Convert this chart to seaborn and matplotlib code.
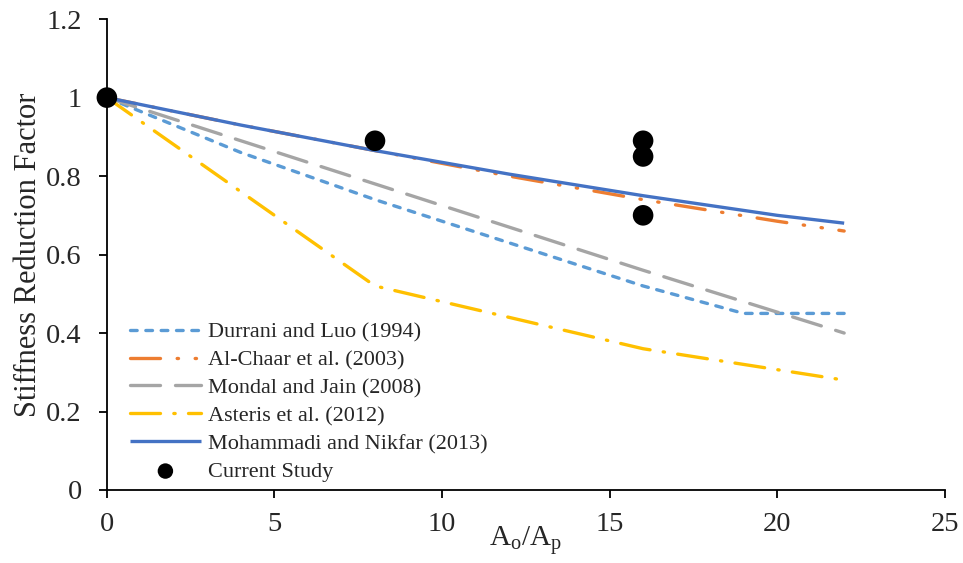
import matplotlib
matplotlib.use("Agg")
import matplotlib.pyplot as plt
import seaborn as sns
import pandas as pd

# Opening-ratio axis values (Ao/Ap) and stiffness reduction factors per model
x_durrani = [0, 4, 8, 12, 16, 19, 22]
y_durrani = [1.0, 0.86, 0.74, 0.63, 0.52, 0.45, 0.45]

x_alchaar = [0, 4, 8, 12, 16, 20, 22]
y_alchaar = [1.0, 0.93, 0.865, 0.80, 0.74, 0.685, 0.66]

x_mondal = [0, 8, 16, 22]
y_mondal = [1.0, 0.78, 0.56, 0.40]

x_asteris = [0, 8, 16, 22]
y_asteris = [1.0, 0.52, 0.36, 0.28]

x_mohammadi = [0, 4, 8, 12, 16, 20, 22]
y_mohammadi = [1.0, 0.93, 0.865, 0.805, 0.75, 0.70, 0.68]

x_current = [0, 8, 16, 16, 16]
y_current = [1.0, 0.89, 0.89, 0.85, 0.70]

labels = ["Durrani and Luo (1994)", "Al-Chaar et al. (2003)", "Mondal and Jain (2008)",
          "Asteris et al. (2012)", "Mohammadi and Nikfar (2013)", "Current Study"]

sns.set_style("white")
plt.rcParams["font.family"] = ["Liberation Serif", "DejaVu Serif"]
plt.rcParams["mathtext.fontset"] = "custom"
plt.rcParams["mathtext.rm"] = "Liberation Serif"

fig = plt.figure(figsize=(9.63, 5.63), dpi=100)
ax = fig.add_axes([0.111, 0.1297, 0.870, 0.8363])

lw = 2.4
series = [
    (x_durrani, y_durrani, "#5B9BD5", (0, (2.0, 2.6)), labels[0]),
    (x_alchaar, y_alchaar, "#ED7D31", (0, (9, 5, 0.4, 5, 0.4, 5)), labels[1]),
    (x_mondal, y_mondal, "#A5A5A5", (0, (9, 4.5)), labels[2]),
    (x_asteris, y_asteris, "#FFC000", (0, (9, 4, 0.4, 4)), labels[3]),
    (x_mohammadi, y_mohammadi, "#4472C4", "-", labels[4]),
]
for xs, ys, col, ls, lab in series:
    df = pd.DataFrame({"x": xs, "y": ys})
    sns.lineplot(data=df, x="x", y="y", ax=ax, color=col, linestyle=ls, linewidth=lw,
                 dash_capstyle="round", solid_capstyle="butt", label=lab,
                 estimator=None, sort=False)

df_cur = pd.DataFrame({"x": x_current, "y": y_current})
sns.scatterplot(data=df_cur, x="x", y="y", ax=ax, color="black", s=220,
                edgecolor="none", label=labels[5], zorder=5, clip_on=False)

ax.set_xlim(0, 25)
ax.set_ylim(0, 1.2)
ax.set_xticks([0, 5, 10, 15, 20, 25])
ax.set_yticks([0, 0.2, 0.4, 0.6, 0.8, 1.0, 1.2])
ax.set_yticklabels(["0", "0.2", "0.4", "0.6", "0.8", "1", "1.2"])

for side in ["top", "right"]:
    ax.spines[side].set_visible(False)
for side in ["left", "bottom"]:
    ax.spines[side].set_color("black")
    ax.spines[side].set_linewidth(1.3)

ax.tick_params(axis="both", direction="out", length=6, width=1.3, color="black",
               labelsize=20.5, left=True, bottom=True)
ax.tick_params(axis="x", pad=10)
ax.tick_params(axis="y", pad=12)

ax.set_xlabel(r"A$_\mathregular{o}$/A$_\mathregular{p}$", fontsize=21, labelpad=-9)
ax.set_ylabel("Stiffness Reduction Factor", fontsize=22, labelpad=2)

leg = ax.legend(loc="upper left", bbox_to_anchor=(0.0274, 0.357), frameon=False,
                fontsize=16, handlelength=3.2, handletextpad=0.3,
                labelspacing=0.33, borderpad=0, borderaxespad=0, markerscale=0.75)

fig.savefig("out.png", dpi=100)
